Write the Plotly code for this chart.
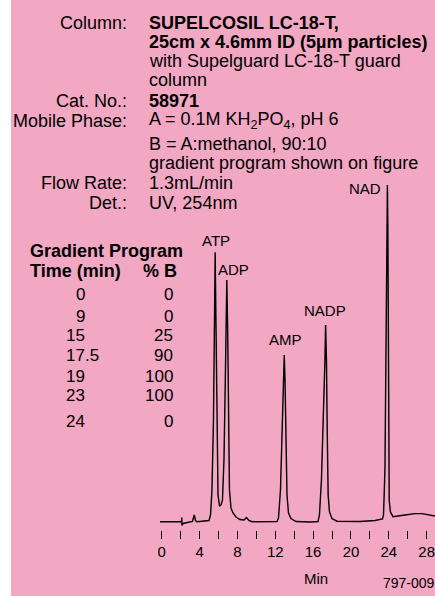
import plotly.graph_objects as go

# ---------------- data ----------------
# chromatogram trace: retention time (min) and relative detector response (NAD peak = 100)
time_min = [-0.18, 2.09, 2.10, 2.12, 2.14, 2.25, 2.99, 3.25, 3.44, 3.57, 3.73, 4.58, 5.00,
            5.16, 5.31, 5.47, 5.57, 5.65, 5.73, 5.84, 5.95, 6.11, 6.27,
            6.42, 6.58, 6.72, 6.83, 6.88, 6.97, 7.07, 7.16, 7.32, 7.53, 7.85, 8.27,
            8.70, 8.96, 9.22, 9.54, 12.18,
            12.34, 12.55, 12.76, 12.89, 12.95, 13.03, 13.13, 13.24, 13.40, 13.66, 14.19,
            15.67, 16.52,
            16.67, 16.88, 17.09, 17.25, 17.32, 17.41, 17.49, 17.59, 17.73, 17.99, 18.52,
            20.95, 22.54, 23.33,
            23.44, 23.59, 23.72, 23.80, 23.85, 23.90, 23.96, 24.04, 24.17, 24.44,
            25.71, 26.76, 27.50, 28.35, 28.88]
response = [0.0, 0.0, 0.06, 1.25, -1.13, -0.53, 0.0, 0.06, 2.0, 0.36, 0.0, 0.15, 0.36,
            2.0, 9.4, 30.2, 56.9, 80.0, 59.9, 24.3, 7.9, 4.7, 5.0,
            6.4, 18.3, 42.1, 65.8, 71.8, 56.9, 27.2, 9.4, 4.1, 2.6, 1.4, 0.65,
            0.5, 1.25, 0.36, 0.0, 0.06,
            1.1, 9.4, 27.2, 42.1, 49.5, 42.1, 24.3, 7.9, 2.6, 0.95, 0.06,
            -0.1, 0.06,
            2.0, 12.4, 30.2, 48.0, 58.4, 48.0, 27.2, 7.9, 2.9, 0.95, 0.15,
            0.06, 0.36, 0.8,
            2.0, 15.4, 56.9, 89.6, 100.0, 87.0, 36.1, 6.4, 2.9, 1.5,
            2.0, 2.4, 2.4, 2.1, 1.7]

# peak labels
peak_names = ["ATP", "ADP", "AMP", "NADP", "NAD"]
peak_label_t = [5.74, 7.57, 13.03, 17.26, 21.53]
peak_label_s = [83.4, 75.0, 54.0, 62.7, 99.0]

# x-axis tick values
major_ticks = [0, 4, 8, 12, 16, 20, 24, 28]
minor_ticks = [2, 6, 10, 14, 18, 22, 26]

# conditions
spec_labels = ["Column:", "", "", "", "Cat. No.:", "Mobile Phase:", "", "", "Flow Rate:", "Det.:"]
spec_values = ["<b>SUPELCOSIL LC-18-T,</b>",
               "<b>25cm x 4.6mm ID (5µm particles)</b>",
               "with Supelguard LC-18-T guard",
               "column",
               "<b>58971</b>",
               "A = 0.1M KH<sub>2</sub>PO<sub>4</sub>, pH 6",
               "B = A:methanol, 90:10",
               "gradient program shown on figure",
               "1.3mL/min",
               "UV, 254nm"]

# gradient program
grad_time = ["0", "9", "15", "17.5", "19", "23", "24"]
grad_pctB = ["0", "0", "25", "90", "100", "100", "0"]

# ---------------- layout helpers ----------------
W, H = 435, 596
FONT = "Liberation Sans, Arial, Helvetica, sans-serif"
PINK = "#F2A7C3"
HS = 18      # header font size
NS = 17      # table number font size


def px(x):
    return x / W


def py(y):
    return 1 - y / H


spec_rows_y = [22.7, 41.7, 61, 80, 101, 121, 144, 163.3, 183.3, 202.7]
grad_rows_y = [294, 316.7, 335.7, 355.7, 376, 395.7, 421]

fig = go.Figure()
fig.add_trace(go.Scatter(x=time_min, y=response, mode="lines",
                         line=dict(color="black", width=1.4), hoverinfo="skip",
                         showlegend=False))

ann = []
for name, t, s in zip(peak_names, peak_label_t, peak_label_s):
    ann.append(dict(x=t, y=s, xref="x", yref="y", text=name, showarrow=False,
                    font=dict(size=15, color="black", family=FONT),
                    xanchor="center", yanchor="middle"))

for lab, val, y in zip(spec_labels, spec_values, spec_rows_y):
    if lab:
        ann.append(dict(x=px(129), y=py(y), xref="paper", yref="paper", text=lab,
                        showarrow=False, xanchor="right", yanchor="middle",
                        font=dict(size=HS, color="black", family=FONT)))
    ann.append(dict(x=px(146.5), y=py(y), xref="paper", yref="paper", text=val,
                    showarrow=False, xanchor="left", yanchor="middle",
                    font=dict(size=HS, color="black", family=FONT)))

# gradient table headers
ann.append(dict(x=px(28), y=py(250.7), xref="paper", yref="paper",
                text="<b>Gradient Program</b>", showarrow=False, xanchor="left",
                yanchor="middle", font=dict(size=HS, color="black", family=FONT)))
ann.append(dict(x=px(28), y=py(270.7), xref="paper", yref="paper",
                text="<b>Time (min)</b>", showarrow=False, xanchor="left",
                yanchor="middle", font=dict(size=HS, color="black", family=FONT)))
ann.append(dict(x=px(179), y=py(270.7), xref="paper", yref="paper",
                text="<b>% B</b>", showarrow=False, xanchor="right",
                yanchor="middle", font=dict(size=HS, color="black", family=FONT)))

for tstr, bstr, y in zip(grad_time, grad_pctB, grad_rows_y):
    whole, _, frac = tstr.partition(".")
    xr = 87 + (NS * (0.278 + 0.556 * len(frac)) if frac else 0)
    ann.append(dict(x=px(xr), y=py(y), xref="paper", yref="paper", text=tstr,
                    showarrow=False, xanchor="right", yanchor="middle",
                    font=dict(size=NS, color="black", family=FONT)))
    ann.append(dict(x=px(175), y=py(y), xref="paper", yref="paper", text=bstr,
                    showarrow=False, xanchor="right", yanchor="middle",
                    font=dict(size=NS, color="black", family=FONT)))

ann.append(dict(x=px(316), y=py(578), xref="paper", yref="paper", text="Min",
                showarrow=False, xanchor="center", yanchor="middle",
                font=dict(size=15, color="black", family=FONT)))
ann.append(dict(x=px(381), y=py(583), xref="paper", yref="paper", text="797-009",
                showarrow=False, xanchor="left", yanchor="middle",
                font=dict(size=14, color="black", family=FONT)))

fig.update_layout(
    width=W, height=H,
    margin=dict(l=0, r=0, t=0, b=0),
    paper_bgcolor=PINK,
    plot_bgcolor="rgba(0,0,0,0)",
    showlegend=False,
    annotations=ann,
    shapes=[dict(type="rect", xref="paper", yref="paper", x0=0, x1=11 / W, y0=0, y1=1,
                 fillcolor="white", line=dict(width=0), layer="below")],
    xaxis=dict(domain=[160 / W, 1], range=[-0.18, 28.88], showgrid=False,
               zeroline=False, showline=False, ticks="outside", ticklen=8,
               tickwidth=1, tickcolor="black", tickmode="array",
               tickvals=major_ticks, ticktext=[str(v) for v in major_ticks],
               tickfont=dict(size=15, color="black", family=FONT),
               ticklabeloverflow="allow",
               minor=dict(tickmode="array", tickvals=minor_ticks, ticks="outside",
                          ticklen=8, tickwidth=1, tickcolor="black", showgrid=False),
               automargin=False, fixedrange=True),
    yaxis=dict(domain=[1 - 530 / H, 1 - 180 / H], range=[-2.465, 101.49],
               visible=False, automargin=False, fixedrange=True),
)

fig.write_html("out.html", config={"displayModeBar": False, "staticPlot": True},
               post_script="document.body.style.margin='0';document.body.style.padding='0';")
